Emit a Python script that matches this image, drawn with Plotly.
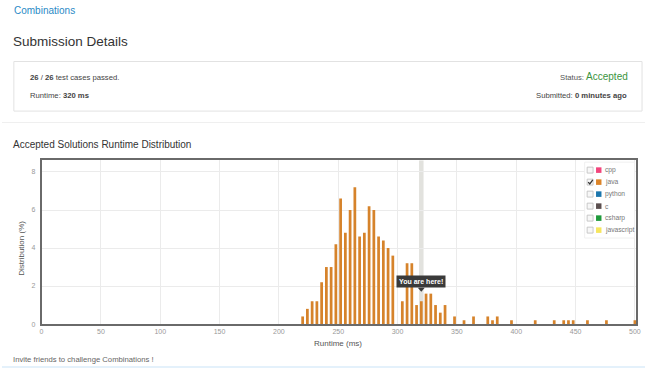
import plotly.graph_objects as go

# ---- data ----
runtime_ms = [220, 224, 228, 232, 236, 240, 244, 248, 252, 256, 260, 264, 268, 272, 276,
              280, 284, 288, 292, 296, 304, 308, 312, 316, 320, 324, 328, 332, 336, 340,
              348, 356, 364, 376, 380, 384, 396, 416, 432, 440, 444, 448, 460, 476, 500]
distribution = [0.4, 0.8, 1.2, 1.2, 2.2, 3.0, 3.0, 4.2, 6.6, 4.8, 6.0, 7.2, 4.6, 4.8, 6.2,
                6.0, 4.6, 4.4, 4.0, 3.6, 1.2, 3.2, 3.2, 1.0, 1.2, 1.6, 1.6, 1.0, 0.6, 1.0,
                0.4, 0.2, 0.4, 0.4, 0.2, 0.4, 0.2, 0.2, 0.2, 0.2, 0.2, 0.2, 0.2, 0.2, 0.2]
my_runtime = 320
x_ticks = [0, 50, 100, 150, 200, 250, 300, 350, 400, 450, 500]
y_ticks = [0, 2, 4, 6, 8]
languages = ["cpp", "java", "python", "c", "csharp", "javascript"]
lang_colors = ["#f2457c", "#dc8428", "#1b76ad", "#5b4f4f", "#1f9a3b", "#f6e65e"]
lang_checked = [False, True, False, False, False, False]

W, H = 650, 371
FONT = "Liberation Sans, Arial, sans-serif"
PAD = 3  # annotation internal padding compensation


def X(px):
    return px / W


def Y(py):
    return 1 - py / H


fig = go.Figure()
fig.add_trace(go.Bar(x=runtime_ms, y=distribution, width=2.3,
                     marker=dict(color="#d6832b", line=dict(width=0)),
                     hoverinfo="skip", showlegend=False))

shapes = []
annotations = []


def text_left(px, py, text, size, color, pad=PAD):
    annotations.append(dict(x=X(px - pad), y=Y(py), xref="paper", yref="paper", xanchor="left",
                            yanchor="middle", text=text, showarrow=False,
                            font=dict(family=FONT, size=size, color=color)))


def text_right(px, py, text, size, color):
    annotations.append(dict(x=X(px + PAD), y=Y(py), xref="paper", yref="paper", xanchor="right",
                            yanchor="middle", text=text, showarrow=False,
                            font=dict(family=FONT, size=size, color=color)))


# highlight band for my runtime
shapes.append(dict(type="rect", xref="x", yref="y domain", x0=my_runtime - 1.9, x1=my_runtime + 1.9,
                   y0=0, y1=1, fillcolor="#e2e2de", line=dict(width=0), layer="below"))

# tooltip
my_val = distribution[runtime_ms.index(my_runtime)]
annotations.append(dict(x=my_runtime, y=my_val, xref="x", yref="y", text="<b>You are here!</b>",
                        showarrow=False, yanchor="bottom", yshift=13.5,
                        font=dict(family=FONT, size=7, color="white"),
                        bgcolor="#3a3a3a", borderpad=2))
shapes.append(dict(type="path", xref="x", yref="y", xsizemode="pixel", ysizemode="pixel",
                   xanchor=my_runtime, yanchor=my_val,
                   path="M -3.5,13.6 L 3.5,13.6 L 0,9.5 Z",
                   fillcolor="#3a3a3a", line=dict(width=0)))

# page header
text_left(13, 11, "Combinations", 10, "#2a8ac6")
text_left(12.5, 42, "Submission Details", 13.5, "#333")

# details box
shapes.append(dict(type="rect", xref="paper", yref="paper", x0=X(12), x1=X(647), y0=Y(62), y1=Y(112),
                   line=dict(color="#e2e2e2", width=1), fillcolor="white", layer="below"))
text_left(29, 78, "<b>26</b> / <b>26</b> test cases passed.", 7.7, "#444")
text_left(29, 96, "Runtime: <b>320 ms</b>", 7.7, "#444")
text_right(632, 77, "<span style='font-size:7.7px;color:#555'>Status: </span>Accepted", 10, "#3a9440")
text_right(631, 96, "Submitted: <b>0 minutes ago</b>", 7.7, "#444")
shapes.append(dict(type="line", xref="paper", yref="paper", x0=X(0), x1=X(650), y0=Y(123.5), y1=Y(123.5),
                   line=dict(color="#efefef", width=1)))

text_left(12.5, 146, "Accepted Solutions Runtime Distribution", 10, "#333")

# axis titles
annotations.append(dict(x=X(340), y=Y(346.5), xref="paper", yref="paper", xanchor="center", yanchor="middle",
                        text="Runtime (ms)", showarrow=False, font=dict(family=FONT, size=8, color="#555")))
annotations.append(dict(x=X(20), y=Y(250), xref="paper", yref="paper", xanchor="center", yanchor="middle",
                        text="Distribution (%)", textangle=-90, showarrow=False,
                        font=dict(family=FONT, size=8, color="#555")))

# footer
text_left(12.5, 362, "Invite friends to challenge Combinations !", 7.7, "#666")
shapes.append(dict(type="rect", xref="paper", yref="paper", x0=0, x1=1, y0=Y(371), y1=Y(369),
                   fillcolor="#e4f1fb", line=dict(width=0)))

# legend
shapes.append(dict(type="rect", xref="paper", yref="paper", x0=X(589), x1=X(639.5), y0=Y(240), y1=Y(163.5),
                   fillcolor="white", line=dict(color="#f0f0f0", width=1)))
for i, (lang, col, chk) in enumerate(zip(languages, lang_colors, lang_checked)):
    cy = 171.5 + 12.1 * i
    shapes.append(dict(type="rect", xref="paper", yref="paper", x0=X(591.5), x1=X(597.5),
                       y0=Y(cy + 3), y1=Y(cy - 3), fillcolor="#f7f7f7", line=dict(color="#bdbdbd", width=0.8)))
    if chk:
        shapes.append(dict(type="path", xref="paper", yref="paper",
                           path=f"M {X(592.6)},{Y(cy)} L {X(594.2)},{Y(cy + 1.8)} L {X(597.2)},{Y(cy - 2.2)}",
                           line=dict(color="#333", width=1.3)))
    shapes.append(dict(type="rect", xref="paper", yref="paper", x0=X(600.5), x1=X(606),
                       y0=Y(cy + 2.8), y1=Y(cy - 2.8), fillcolor=col, line=dict(width=0)))
    text_left(607.5, cy, lang, 6.7, "#777", pad=0)

fig.update_layout(
    width=W, height=H,
    margin=dict(l=0, r=0, t=0, b=0),
    paper_bgcolor="white", plot_bgcolor="white",
    showlegend=False, hovermode=False,
    shapes=shapes, annotations=annotations,
    font=dict(family=FONT),
    xaxis=dict(domain=[X(40), X(641)], range=[0, 501], tickvals=x_ticks,
               ticktext=[str(v) for v in x_ticks],
               showgrid=True, gridcolor="#ebebeb", gridwidth=1, zeroline=False,
               showline=True, linecolor="#6a6a6a", linewidth=1.5, mirror=True,
               ticks="", tickfont=dict(family=FONT, size=7, color="#999")),
    yaxis=dict(domain=[Y(326.7), Y(161.7)], range=[0, 8.61], tickvals=y_ticks,
               ticktext=[str(v) for v in y_ticks],
               showgrid=True, gridcolor="#ebebeb", gridwidth=1, zeroline=False,
               showline=True, linecolor="#6a6a6a", linewidth=1.5, mirror=True,
               ticks="", ticklabelstandoff=3, tickfont=dict(family=FONT, size=7, color="#999")),
)

fig.write_html("out.html")
